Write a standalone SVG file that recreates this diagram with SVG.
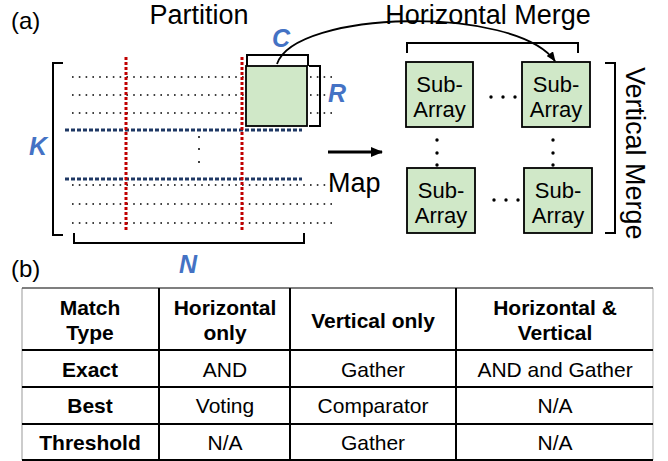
<svg xmlns="http://www.w3.org/2000/svg" width="668" height="461" viewBox="0 0 668 461">
<style>
text{font-family:"Liberation Sans",Arial,sans-serif;fill:#000}
.lbl{font-size:27px}
.var{font-size:25px;font-weight:bold;font-style:italic;fill:#4472c4}
.sa{font-size:22px;text-anchor:middle}
.th{font-size:21px;font-weight:bold;text-anchor:middle}
.td{font-size:21px;text-anchor:middle}
.br{fill:none;stroke:#000;stroke-width:2}
.row{stroke:#000;stroke-width:1.6;stroke-dasharray:1.6 5.2;fill:none}
.red{stroke:#c00000;stroke-width:3;stroke-dasharray:3 2;fill:none}
.navy{stroke:#1f3864;stroke-width:3;stroke-dasharray:4 2;fill:none}
.box{fill:#d0e8c8;stroke:#000;stroke-width:1.8}
.dot{fill:#000}
.grid{stroke:#000;stroke-width:2}
</style>
<defs>
<marker id="ah" markerWidth="10" markerHeight="8" refX="9" refY="4" orient="auto" markerUnits="userSpaceOnUse">
<path d="M0,0 L10,4 L0,8 Z" fill="#000"/>
</marker>
<marker id="ah2" markerWidth="12" markerHeight="10" refX="11" refY="5" orient="auto" markerUnits="userSpaceOnUse">
<path d="M0,0 L12,5 L0,10 Z" fill="#000"/>
</marker>
</defs>

<text x="11" y="29" style="font-size:24px">(a)</text>
<text x="199" y="24" class="lbl" text-anchor="middle">Partition</text>
<text x="488" y="24" class="lbl" text-anchor="middle">Horizontal Merge</text>

<g id="matrix">
<path class="row" d="M72,77H336M72,95H336M72,113H336M72,185H333M72,204H333M72,223H333"/>
<path class="navy" d="M65,130H302M65,179H302"/>
<path class="red" d="M126,57V232M242,57V232"/>
<circle class="dot" cx="199" cy="137" r="1"/>
<circle class="dot" cx="199" cy="149" r="1"/>
<circle class="dot" cx="199" cy="162" r="1"/>
<rect class="box" x="246" y="66" width="61" height="60"/>
</g>

<g id="brackets">
<path class="br" d="M63,63H53V235H63"/>
<path class="br" d="M74,233V243H304V233"/>
<path class="br" d="M247,66V55H308V66"/>
<path class="br" d="M309,66H320V126H309"/>
<path class="br" d="M407,53V43H578V53"/>
<path class="br" d="M605,63H615V233H605"/>
</g>

<text x="281" y="47" class="var" text-anchor="middle">C</text>
<text x="337" y="102" class="var" text-anchor="middle">R</text>
<text x="38" y="155" class="var" text-anchor="middle">K</text>
<text x="188" y="273" class="var" text-anchor="middle">N</text>

<g id="subarray-tl"><rect class="box" x="406" y="62" width="67" height="65"/><text class="sa" x="439.5" y="92">Sub-</text><text class="sa" x="439.5" y="117">Array</text></g>
<g id="subarray-tr"><rect class="box" x="522" y="62" width="68" height="65"/><text class="sa" x="556" y="92">Sub-</text><text class="sa" x="556" y="117">Array</text></g>
<g id="subarray-bl"><rect class="box" x="407" y="168" width="68" height="65"/><text class="sa" x="441" y="198">Sub-</text><text class="sa" x="441" y="223">Array</text></g>
<g id="subarray-br"><rect class="box" x="524" y="168" width="68" height="65"/><text class="sa" x="558" y="198">Sub-</text><text class="sa" x="558" y="223">Array</text></g>

<g id="ellipses">
<circle class="dot" cx="491" cy="97" r="1.7"/><circle class="dot" cx="503" cy="97" r="1.7"/><circle class="dot" cx="515" cy="97" r="1.7"/>
<circle class="dot" cx="494" cy="200" r="1.7"/><circle class="dot" cx="506" cy="200" r="1.7"/><circle class="dot" cx="518" cy="200" r="1.7"/>
<circle class="dot" cx="437" cy="140" r="1.7"/><circle class="dot" cx="437" cy="153" r="1.7"/><circle class="dot" cx="437" cy="165" r="1.7"/>
<circle class="dot" cx="553" cy="140" r="1.7"/><circle class="dot" cx="553" cy="153" r="1.7"/><circle class="dot" cx="553" cy="165" r="1.7"/>
</g>

<g id="connectors">
<path d="M277,64 C295,10 515,5 555,61" fill="none" stroke="#000" stroke-width="1.8" marker-end="url(#ah)"/>
<path d="M328,152 H382" fill="none" stroke="#000" stroke-width="3" marker-end="url(#ah2)"/>
</g>

<text x="328" y="192" class="lbl">Map</text>
<text class="lbl" transform="translate(626,67) rotate(90)">Vertical Merge</text>

<text x="11" y="277" style="font-size:24px">(b)</text>

<g id="table">
<rect x="22" y="288" width="631" height="172" fill="#fff" stroke="none"/>
<path d="M22,288V460" stroke="#bbb" stroke-width="1.5"/>
<path d="M653,288V460" stroke="#ccc" stroke-width="1.5"/>
<path d="M22,288H653" stroke="#555" stroke-width="1.5"/>
<path class="grid" d="M22,350H653M22,387H653M22,424H653M22,460H653M159,288V460M290,288V460M456,288V460"/>
<text class="th" x="90" y="315">Match</text><text class="th" x="90" y="340">Type</text>
<text class="th" x="225" y="315">Horizontal</text><text class="th" x="225" y="340">only</text>
<text class="th" x="373" y="328">Vertical only</text>
<text class="th" x="555" y="315">Horizontal &amp;</text><text class="th" x="555" y="340">Vertical</text>
<text class="th" x="90" y="377">Exact</text><text class="td" x="225" y="377">AND</text><text class="td" x="373" y="377">Gather</text><text class="td" x="555" y="377">AND and Gather</text>
<text class="th" x="90" y="413">Best</text><text class="td" x="225" y="413">Voting</text><text class="td" x="373" y="413">Comparator</text><text class="td" x="555" y="413">N/A</text>
<text class="th" x="90" y="450">Threshold</text><text class="td" x="225" y="450">N/A</text><text class="td" x="373" y="450">Gather</text><text class="td" x="555" y="450">N/A</text>
</g>
</svg>
